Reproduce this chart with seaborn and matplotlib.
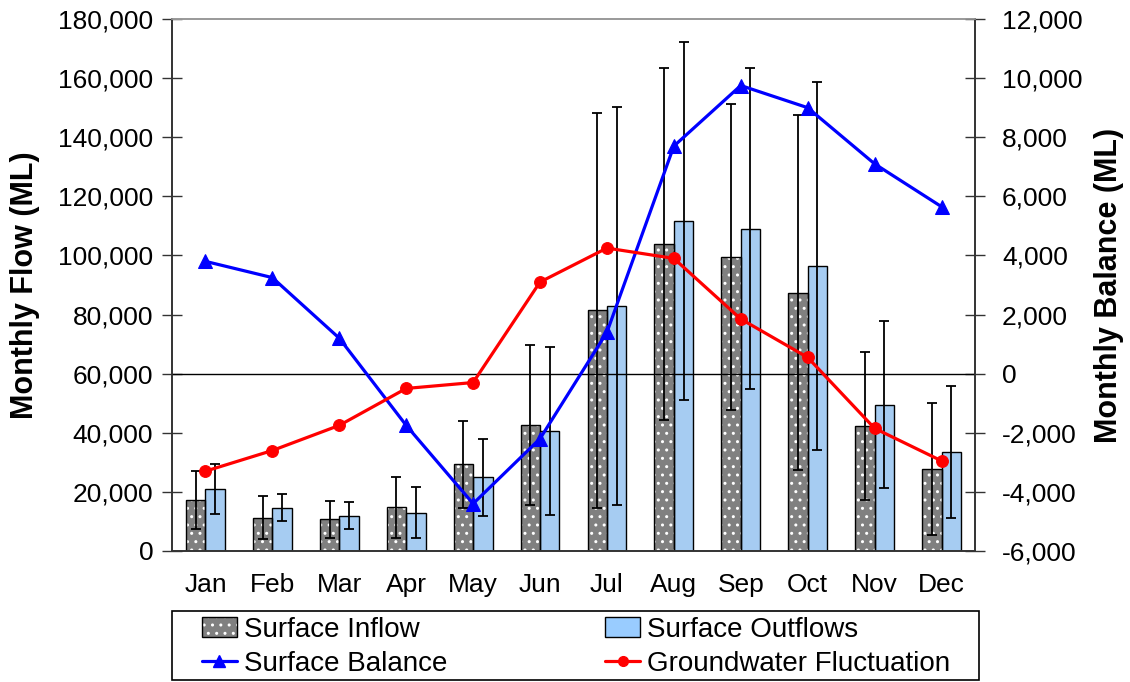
import numpy as np
import pandas as pd
import seaborn as sns
import matplotlib.pyplot as plt
from matplotlib.patches import Patch, Rectangle
from matplotlib.lines import Line2D
from matplotlib.ticker import FuncFormatter, FixedLocator

# -----------------------------
# Data
# -----------------------------
months = ["Jan", "Feb", "Mar", "Apr", "May", "Jun",
          "Jul", "Aug", "Sep", "Oct", "Nov", "Dec"]

inflow = [17250, 11250, 10700, 14800, 29300, 42500,
          81400, 103900, 99500, 87400, 42400, 27700]
outflow = [21100, 14600, 11900, 13000, 25000, 40600,
           82800, 111600, 109000, 96500, 49500, 33400]
inflow_err = [9800, 7200, 6300, 10300, 14600, 27100,
              66900, 59600, 51900, 60100, 25000, 22300]
outflow_err = [8450, 4600, 4550, 8700, 13000, 28400,
               67400, 60600, 54300, 62300, 28300, 22400]

balance = [3800, 3250, 1200, -1750, -4400, -2200,
           1400, 7700, 9750, 9000, 7100, 5650]
groundwater = [-3300, -2600, -1750, -500, -300, 3100,
               4250, 3900, 1850, 550, -1850, -2950]

# -----------------------------
# Style
# -----------------------------
sns.set_style("white")
plt.rcParams["font.family"] = ["Liberation Sans", "DejaVu Sans"]
plt.rcParams["text.color"] = "black"
plt.rcParams["axes.labelcolor"] = "black"
plt.rcParams["xtick.labelcolor"] = "black"
plt.rcParams["ytick.labelcolor"] = "black"

inflow_color = "#808080"
outflow_color = "#99CCFF"

df = pd.DataFrame({
    "Month": months * 2,
    "Flow": inflow + outflow,
    "Series": ["Surface Inflow"] * 12 + ["Surface Outflows"] * 12,
})

fig = plt.figure(figsize=(11.3, 6.82), dpi=100)
ax = fig.add_axes([0.1522, 0.1921, 0.7106, 0.78])

sns.barplot(data=df, x="Month", y="Flow", hue="Series",
            palette=[inflow_color, outflow_color], width=0.58,
            errorbar=None, edgecolor="black", linewidth=1.0,
            legend=False, ax=ax)

# dotted fill on the inflow bars, then a black outline on top
for bar in ax.containers[0]:
    bar.set_hatch("..")
    bar.set_edgecolor("white")
    bar.set_linewidth(0)
    ax.add_patch(Rectangle(bar.get_xy(), bar.get_width(), bar.get_height(),
                           fill=False, edgecolor="black", linewidth=1.0, zorder=bar.get_zorder()))

# error bars from the bar tops
for container, errs in zip(ax.containers[:2], [inflow_err, outflow_err]):
    xs = [b.get_x() + b.get_width() / 2 for b in container]
    ys = [b.get_height() for b in container]
    ax.errorbar(xs, ys, yerr=errs, fmt="none", ecolor="black",
                elinewidth=1.3, capsize=3.5, capthick=1.3, zorder=3)

ax.set_ylim(0, 180000)
ax.set_yticks(np.arange(0, 180001, 20000))
ax.yaxis.set_major_formatter(FuncFormatter(lambda v, p: f"{int(v):,}"))
ax.set_xlim(-0.5, 11.5)
ax.set_xlabel("")
ax.set_ylabel("Monthly Flow (ML)", fontsize=22, fontweight="bold", labelpad=13)

ax.tick_params(axis="y", direction="inout", length=15, width=1, color="#333333",
               labelsize=19, pad=6)
ax.tick_params(axis="x", which="major", length=0, labelsize=19, pad=16)
ax.xaxis.set_minor_locator(FixedLocator(np.arange(-0.5, 12, 1)))
ax.tick_params(axis="x", which="minor", direction="inout", length=16, width=1, color="#333333")

# -----------------------------
# Secondary axis: balance lines
# -----------------------------
ax2 = ax.twinx()
ax2.axhline(0, color="black", linewidth=1.0, zorder=1)
x_pos = np.arange(len(months))
sns.lineplot(x=x_pos, y=balance, ax=ax2, color="blue", linewidth=2.3,
             marker="^", markersize=10, markeredgecolor="blue", zorder=4)
sns.lineplot(x=x_pos, y=groundwater, ax=ax2, color="red", linewidth=2.3,
             marker="o", markersize=8.5, markeredgecolor="red", zorder=4)
ax2.set_ylim(-6000, 12000)
ax2.set_yticks(np.arange(-6000, 12001, 2000))
ax2.yaxis.set_major_formatter(FuncFormatter(lambda v, p: f"{int(v):,}"))
ax2.set_xlim(-0.5, 11.5)
ax2.set_ylabel("Monthly Balance (ML)", fontsize=22, fontweight="bold", labelpad=8)
ax2.tick_params(axis="y", direction="inout", length=15, width=1, color="#333333",
                labelsize=19, pad=12)

for a in (ax, ax2):
    for side in ("left", "right", "bottom"):
        a.spines[side].set_color("#333333")
        a.spines[side].set_linewidth(1.2)
    a.spines["top"].set_color("#999999")
    a.spines["top"].set_linewidth(1.2)

# -----------------------------
# Legend (frame drawn separately so it spans the plot width)
# -----------------------------
fig.patches.append(Rectangle((0.1522, 0.0029), 0.7142, 0.1012, transform=fig.transFigure,
                             fill=False, edgecolor="black", linewidth=1.2))

inflow_handle = (Patch(facecolor=inflow_color, edgecolor="white", hatch="..", linewidth=0),
                 Patch(fill=False, edgecolor="black", linewidth=1.0))
handles = [
    inflow_handle,
    Line2D([], [], color="blue", linewidth=2.3, marker="^", markersize=8),
    Patch(facecolor=outflow_color, edgecolor="black", linewidth=1.0),
    Line2D([], [], color="red", linewidth=2.3, marker="o", markersize=7),
]
labels = ["Surface Inflow", "Surface Balance", "Surface Outflows", "Groundwater Fluctuation"]
fig.legend(handles, labels, ncol=2, loc="upper left",
           bbox_to_anchor=(202 / 1130, 1 - 617 / 682),
           fontsize=20, frameon=False,
           handlelength=1.25, handleheight=0.75, handletextpad=0.25,
           labelspacing=0.28, borderpad=0, borderaxespad=0, columnspacing=5.7)

plt.savefig("out.png", dpi=100)
